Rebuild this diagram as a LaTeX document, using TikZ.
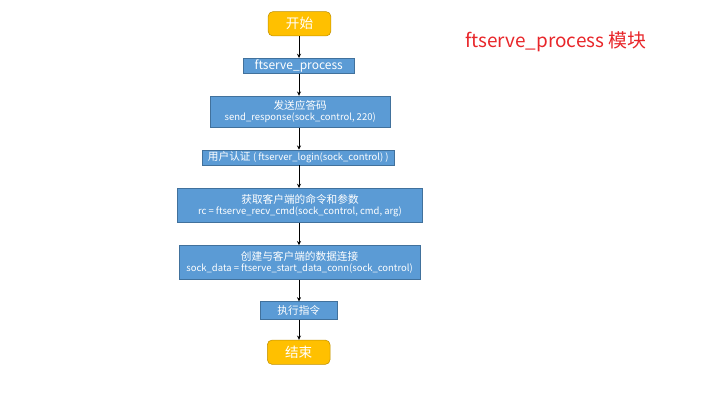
\documentclass[tikz,border=0pt]{standalone}
\usepackage{fontspec}
\setmainfont{Noto Sans CJK SC}
\usepackage{tikz}
\usetikzlibrary{arrows.meta}

\definecolor{boxblue}{HTML}{5B9BD5}
\definecolor{boxedge}{HTML}{41719C}
\definecolor{termfill}{HTML}{FFC000}
\definecolor{termedge}{HTML}{BF9000}
\definecolor{titlered}{HTML}{E8262A}

% Latin code text is set a bit smaller than the Chinese
\newcommand{\codetext}[1]{{\fontsize{7.1}{8.4}\selectfont #1}}

\tikzset{
    stepbox/.style={draw=boxedge, fill=boxblue, text=white, inner sep=0pt, align=center, font=\fontsize{8}{8.4}\selectfont},
    termbox/.style={draw=termedge, fill=termfill, text=white, rounded corners=3.5pt, inner sep=0pt, minimum width=47pt, minimum height=18.2pt, font=\fontsize{10.2}{12}\selectfont},
    flow/.style={-{Stealth[length=3.2pt,width=3pt]}, black, line width=0.75pt}
}

\begin{document}
\begin{tikzpicture}[x=0.75pt,y=0.75pt,yscale=-1]
        % Set diagram to the 720x405 frame
        \useasboundingbox (0,0) rectangle (720,405);

        % Terminal Nodes
        \node [termbox] (start) at (299.5,23.8) {开始};
        \node [termbox] (stop) at (298.7,352.2) {结束};

        % Step Nodes
        \node [stepbox, minimum width=83.5pt, minimum height=11.25pt, font=\fontsize{9}{10}\selectfont] (proc) at (298.7,65.8) {ftserve\_process};
        \node [stepbox, minimum width=134.8pt, minimum height=23.5pt] (resp) at (300.2,111.7) {发送应答码\\\codetext{send\_response(sock\_control, 220)}};
        \node [stepbox, minimum width=144pt, minimum height=11.25pt] (login) at (298.3,157.5) {用户认证 \codetext{( ftserver\_login(sock\_control) )}};
        \node [stepbox, minimum width=184pt, minimum height=25.65pt] (recv) at (300,205.4) {获取客户端的命令和参数\\\codetext{rc = ftserve\_recv\_cmd(sock\_control, cmd, arg)}};
        \node [stepbox, minimum width=180.5pt, minimum height=25.5pt] (conn) at (299.6,262.5) {创建与客户端的数据连接\\\codetext{sock\_data = ftserve\_start\_data\_conn(sock\_control)}};
        \node [stepbox, minimum width=58.3pt, minimum height=13.2pt] (exec) at (298.8,310.5) {执行指令};

        % Straight Lines
        \draw [flow] (start.south -| 299,0) -- (proc.north -| 299,0);
        \draw [flow] (proc.south -| 299,0) -- (resp.north -| 299,0);
        \draw [flow] (resp.south -| 299,0) -- (login.north -| 299,0);
        \draw [flow] (login.south -| 299,0) -- (recv.north -| 299,0);
        \draw [flow] (recv.south -| 299,0) -- (conn.north -| 299,0);
        \draw [flow] (conn.south -| 299,0) -- (exec.north -| 299,0);
        \draw [flow] (exec.south -| 299,0) -- (stop.north -| 299,0);

        % Text Node
        \node [anchor=west, inner sep=0pt, text=titlered, font=\fontsize{14.2}{16}\selectfont] (title) at (465,42) {ftserve\_process 模块};
\end{tikzpicture}
\end{document}
